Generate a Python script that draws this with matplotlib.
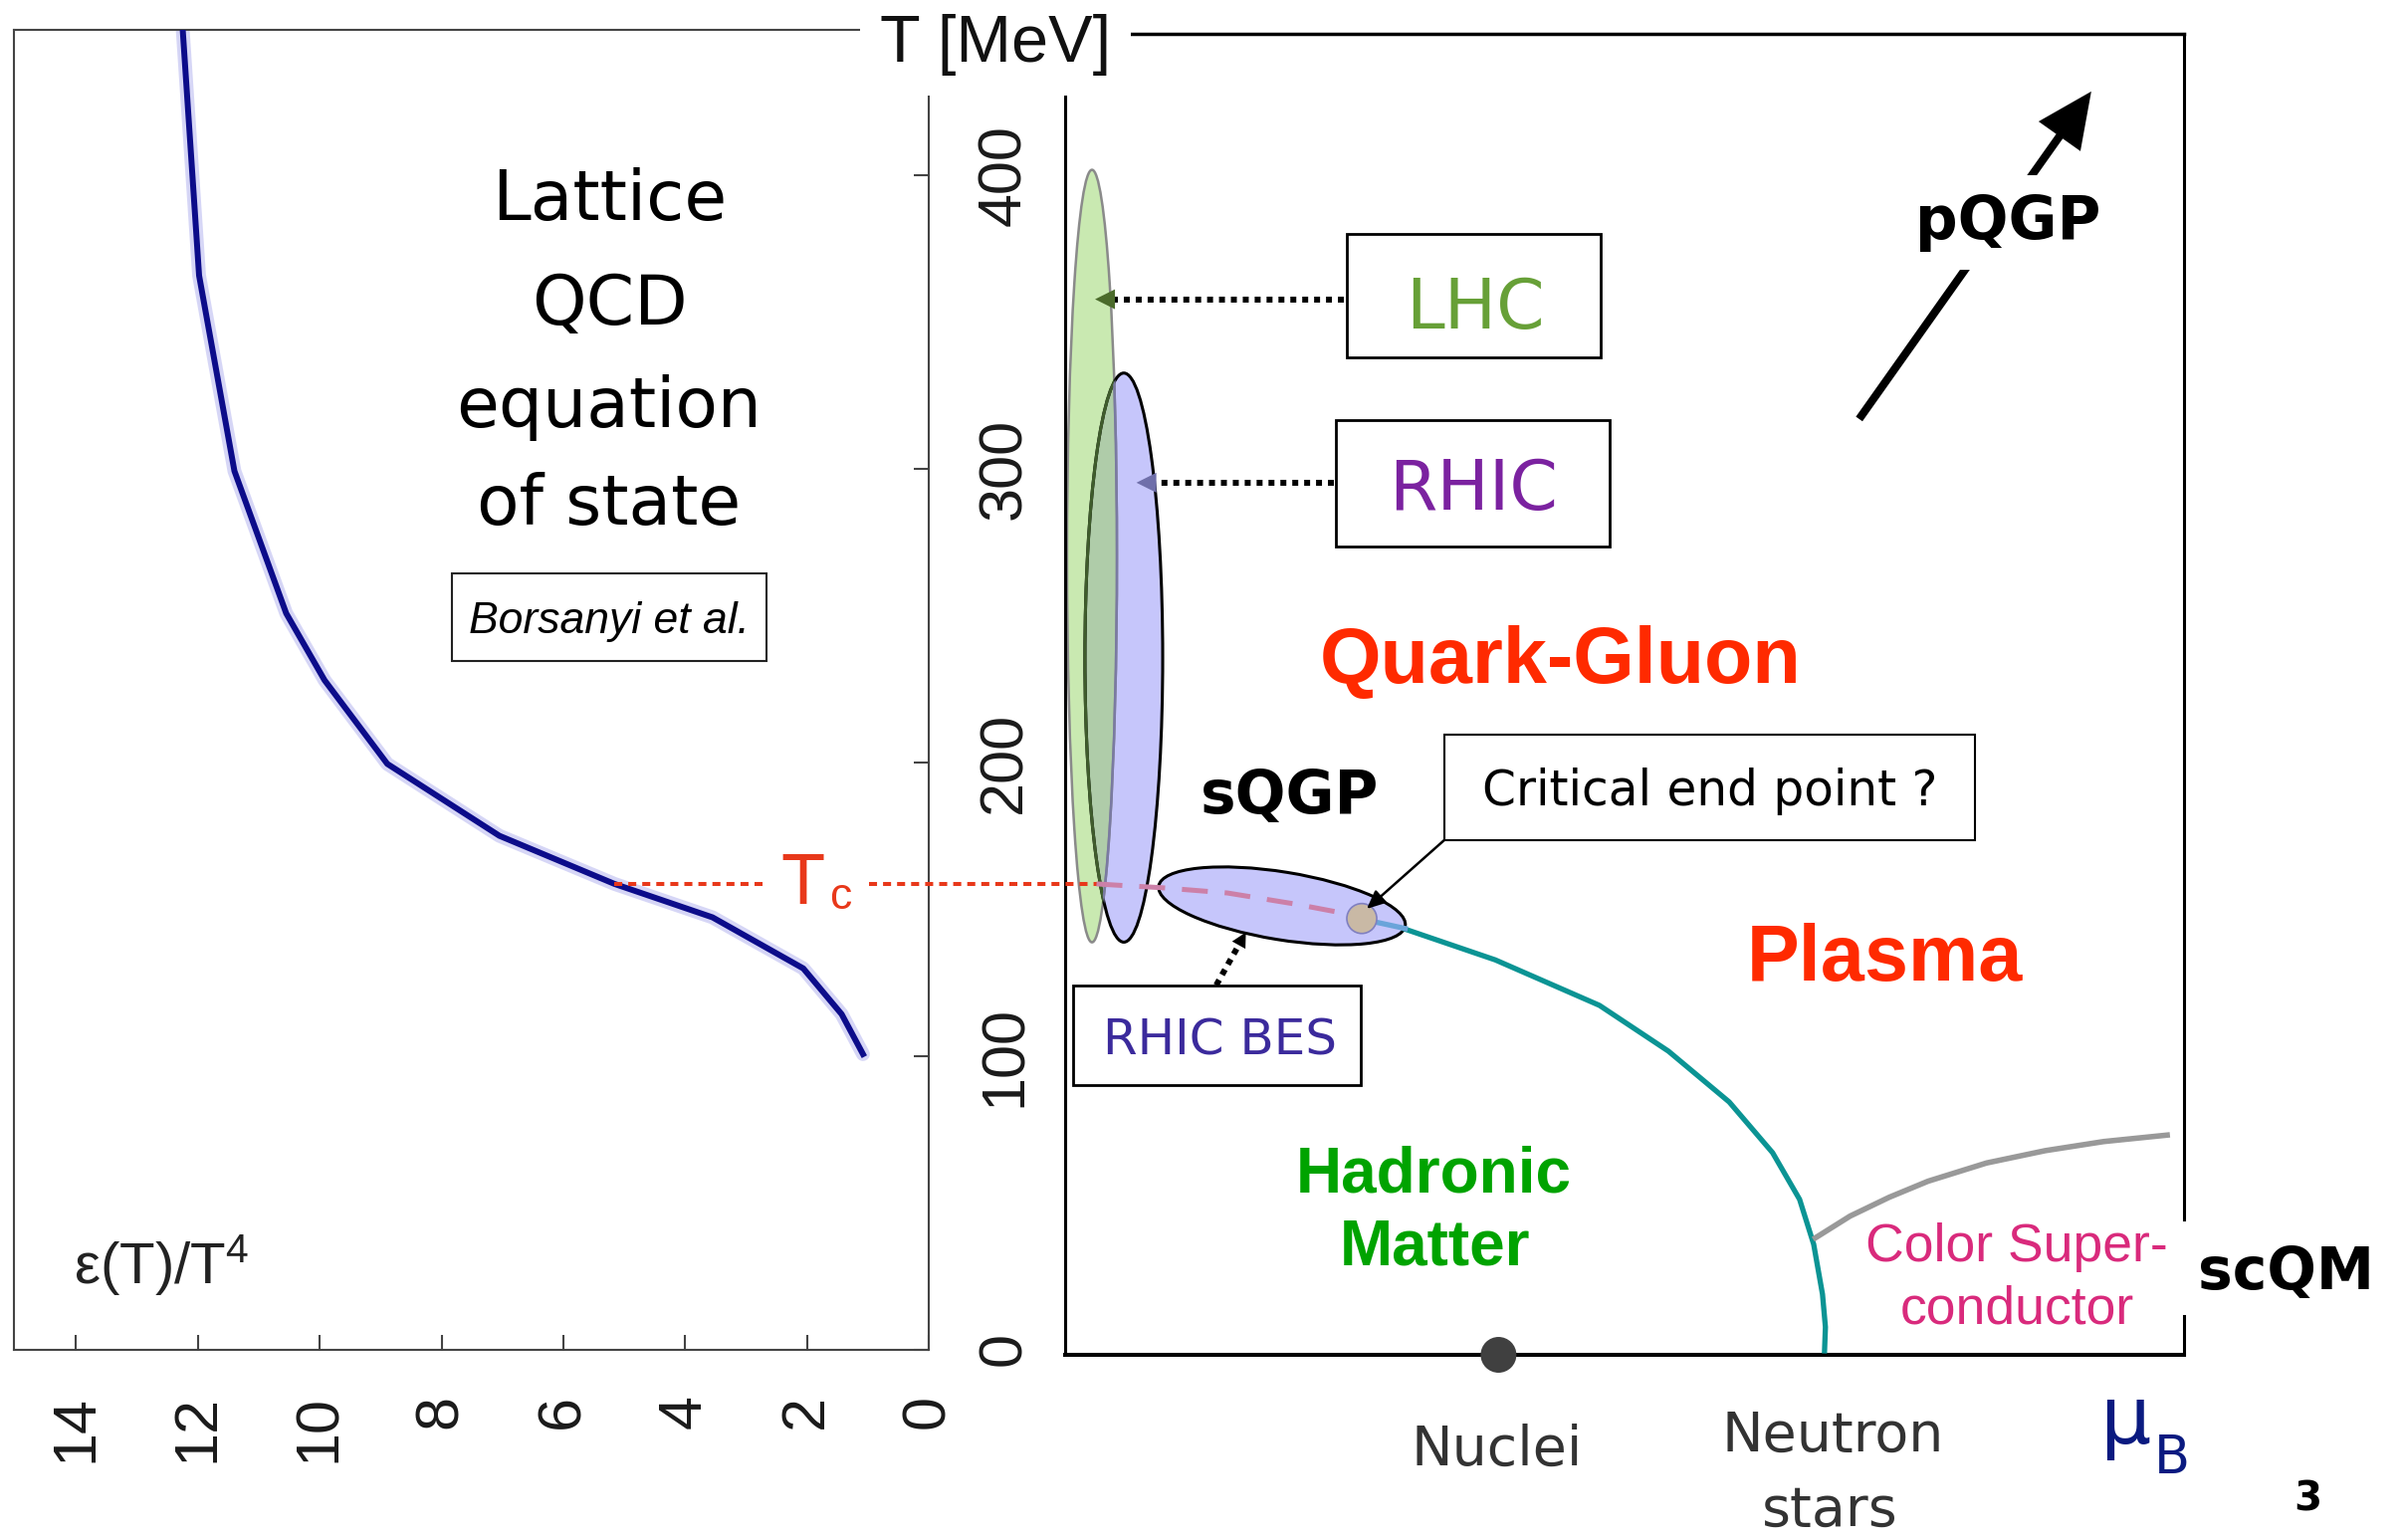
import matplotlib
matplotlib.use('Agg')
import matplotlib.pyplot as plt
from matplotlib.patches import Ellipse, Rectangle, Circle, FancyArrowPatch
from matplotlib import font_manager as fm

# ---------------- data ----------------
# Lattice QCD equation of state (left panel): eps/T^4 vs T [MeV]
T_lattice = [100.6, 114.2, 129.8, 147.2, 158.6, 175.0, 199.5, 228.0, 250.8, 299.3, 365.9, 450.0]
eps_over_T4 = [1.08, 1.43, 2.06, 3.55, 5.16, 7.05, 8.89, 9.92, 10.55, 11.40, 11.98, 12.25]
eps_ticks = [14, 12, 10, 8, 6, 4, 2, 0]
T_ticks = [0, 100, 200, 300, 400]
Tc = 158.6

# Phase diagram (right panel): mu_B (arbitrary units) vs T [MeV]
transition_mu = [115.8, 146.6, 182.1, 205.6, 226.3, 241.1, 250.3, 255.1, 258.1, 259.1, 258.8]
transition_T = [143.2, 132.7, 117.2, 101.6, 84.3, 67.0, 51.1, 35.8, 18.8, 7.6, -0.5]
crossover_mu = [10.7, 17.0, 32.8, 55.3, 78.0, 96.0, 101.1]
crossover_T = [158.6, 158.2, 157.3, 155.5, 151.8, 148.4, 146.8]
cep_link_mu = [106.2, 115.9]
cep_link_T = [145.5, 143.4]
csc_mu = [254.9, 267.5, 280.8, 294.1, 314.0, 334.0, 353.9, 376.5]
csc_T = [37.5, 45.4, 51.8, 57.3, 63.5, 67.7, 70.8, 73.1]
cep_point = (101.1, 146.8)
nuclei_point = (147.7, -1.87)

# accelerator coverage ellipses: (center mu, center T, width, height, angle)
lhc_ell = (9.16, 270.3, 17.0, 263.2, 0.0)
rhic_ell = (20.0, 235.7, 26.5, 193.9, 0.0)
bes_ell = (73.9, 151.1, 85.1, 23.1, -9.2)

# ---------------- fonts ----------------
def has_font(name):
    try:
        fm.findfont(fm.FontProperties(family=name), fallback_to_default=False)
        return True
    except Exception:
        return False

plt.rcParams['font.family'] = ['Liberation Sans', 'DejaVu Sans']
plt.rcParams['mathtext.fontset'] = 'custom'
plt.rcParams['mathtext.rm'] = 'Liberation Sans'
plt.rcParams['mathtext.it'] = 'Liberation Sans:italic'
COMIC = 'DejaVu Sans'
NARROW_OK = has_font('Liberation Sans Narrow')
NARROW = 'Liberation Sans Narrow' if NARROW_OK else 'Liberation Sans'

W, H = 2414, 1547
fig = plt.figure(figsize=(W / 100, H / 100), dpi=100)
fig.patch.set_facecolor('white')


def ptxt(x, y, s, **kw):
    kw.setdefault('ha', 'center')
    kw.setdefault('va', 'baseline')
    return fig.text(x / W, 1 - y / H, s, **kw)

# ---------------- left panel ----------------
ax1 = fig.add_axes([14 / W, (H - 1355.5) / H, (933 - 14) / W, (1355.5 - 30) / H])
ax1.set_xlim(15.02, 0)
ax1.set_ylim(0, 449.6)
ax1.plot(eps_over_T4, T_lattice, color='#8c8ce6', lw=10, alpha=0.35,
         solid_capstyle='round', zorder=2)
ax1.plot(eps_over_T4, T_lattice, color='#0c0c8a', lw=4.3, zorder=3)
for s in ax1.spines.values():
    s.set_color('#444444')
    s.set_linewidth(1.5)
ax1.spines['right'].set_bounds(0, 431)
ax1.yaxis.tick_right()
ax1.set_xticks(eps_ticks)
ax1.set_yticks(T_ticks)
ax1.tick_params(axis='both', direction='in', length=10.8, width=1.5, color='#444444',
                labelsize=44, labelcolor='#1a1a1a')
ax1.tick_params(axis='x', pad=33, labelrotation=90)
ax1.tick_params(axis='y', pad=35, labelrotation=90, left=False, right=True)
for lab in ax1.get_yticklabels():
    lab.set_va('center')

# Tc dotted line (left part)
red = '#e8381a'
ax1.plot([5.16, 2.64], [Tc, Tc], color=red, lw=2.9, ls=(0, (2, 1.5)), clip_on=False, zorder=4)

# Borsanyi box
ax1.add_patch(Rectangle((2.66, 234.6), 5.17, 29.8, fill=False, ec='#222222', lw=1.5, zorder=4))

# ---------------- right panel ----------------
ax2 = fig.add_axes([1070 / W, (H - 1361) / H, 1124 / W, (1361 - 33.5) / H])
ax2.set_xlim(0, 381.3)
ax2.set_ylim(-1.87, 448.4)
ax2.set_xticks([])
ax2.set_yticks([])
ax2.patch.set_alpha(0)
ax2.spines['right'].set_visible(False)
ax2.spines['top'].set_linewidth(2.5)
ax2.spines['left'].set_linewidth(2.2)
ax2.spines['left'].set_bounds(-1.87, 431)
ax2.spines['bottom'].set_linewidth(2.9)
for s in ax2.spines.values():
    s.set_color('black')
# right frame line interrupted by scQM label
ax2.plot([381.3, 381.3], [448.4, 44.3], color='k', lw=2.2, clip_on=False, solid_capstyle='projecting')
ax2.plot([381.3, 381.3], [11.5, -1.87], color='k', lw=2.2, clip_on=False, solid_capstyle='projecting')

# ellipses
def ell(p, **kw):
    return Ellipse((p[0], p[1]), p[2], p[3], angle=p[4], **kw)

lhc = ell(lhc_ell, fc='#c9e9b1', ec='none', zorder=2)
ax2.add_patch(lhc)
rhic = ell(rhic_ell, fc='#c6c6fb', ec='none', zorder=2.1)
ax2.add_patch(rhic)
ov = ell(rhic_ell, fc='#afcca9', ec='none', zorder=2.2)
ax2.add_patch(ov)
ov.set_clip_path(lhc)
ax2.add_patch(ell(lhc_ell, fill=False, ec='#8a8a8a', lw=1.8, zorder=2.5))
ax2.add_patch(ell(rhic_ell, fill=False, ec='black', lw=2.2, zorder=2.6))
e_in = ell(rhic_ell, fill=False, ec='#3f5c2c', lw=2.2, zorder=2.7)
ax2.add_patch(e_in)
e_in.set_clip_path(lhc)
l_in = ell(lhc_ell, fill=False, ec='#7a7aa2', lw=1.8, zorder=2.8)
ax2.add_patch(l_in)
l_in.set_clip_path(rhic)
ax2.add_patch(ell(bes_ell, fc='#c6c6fb', ec='black', lw=2.2, zorder=3))

# Tc dotted line (right part)
ax2.plot([-66.8, 10.7], [Tc, Tc], color=red, lw=2.9, ls=(0, (2, 1.5)), clip_on=False, zorder=4)

# phase lines
ax2.plot(crossover_mu, crossover_T, color='#cc80a8', lw=3.6, ls=(0, (5.2, 3.4)), zorder=4)
ax2.plot(transition_mu, transition_T, color='#0b9494', lw=3.8, zorder=3.5, clip_on=False,
         solid_joinstyle='round')
ax2.plot(cep_link_mu, cep_link_T, color='#6aa4da', lw=3.8, zorder=4)
ax2.plot(csc_mu, csc_T, color='#999999', lw=4.0, zorder=3.5, solid_capstyle='butt',
         solid_joinstyle='round')

ax2.add_patch(Circle(cep_point, 5.1, fc='#c9b9a5', ec='#8080c0', lw=1.2, zorder=6))
ax2.add_patch(Circle(nuclei_point, 6.1, fc='#404040', ec='none', zorder=6, clip_on=False))

# boxes
ax2.add_patch(Rectangle((96.0, 338.1), 86.5, 42.0, fc='white', ec='k', lw=2.0, zorder=5))
ax2.add_patch(Rectangle((92.3, 273.6), 93.2, 43.0, fc='white', ec='k', lw=2.0, zorder=5))
ax2.add_patch(Rectangle((129.2, 173.5), 180.8, 36.0, fc='white', ec='k', lw=1.5, zorder=5))
ax2.add_patch(Rectangle((2.6, 90.2), 98.0, 33.8, fc='white', ec='k', lw=2.0, zorder=5))


def head(base, tip, color, hl, hw, lw=0):
    ax2.add_patch(FancyArrowPatch(base, tip, arrowstyle=f'-|>,head_length={hl},head_width={hw}',
                                  mutation_scale=1, lw=lw, color=color, shrinkA=0, shrinkB=0,
                                  transform=ax2.transData, zorder=7))

dots = (0, (1, 1))
# LHC arrow
ax2.plot([95.0, 17.0], [357.8, 357.8], color='k', lw=4.3, ls=dots, zorder=6)
head((17.0, 357.8), (10.2, 357.8), '#4b6b2b', 14.4, 7.2)
# RHIC arrow
ax2.plot([91.6, 31.1], [295.3, 295.3], color='k', lw=4.3, ls=dots, zorder=6)
head((31.1, 295.3), (24.3, 295.3), '#6f6faa', 14.4, 7.2)
# RHIC BES arrow
ax2.plot([51.5, 59.15], [124.1, 137.7], color='k', lw=4.3, ls=dots, zorder=6)
head((59.15, 137.7), (61.6, 142.1), 'k', 10.6, 5.5)
# critical point callout
ax2.add_patch(FancyArrowPatch((129.2, 173.5), (102.8, 150.1),
                              arrowstyle='-|>,head_length=11,head_width=5', mutation_scale=1,
                              lw=1.8, color='k', shrinkA=0, shrinkB=0,
                              transform=ax2.transData, zorder=7))
# pQGP arrow
ax2.add_patch(FancyArrowPatch((270.6, 317.0), (349.7, 428.6),
                              arrowstyle='-|>,head_length=30,head_width=14', mutation_scale=1,
                              lw=5.8, color='k', shrinkA=0, shrinkB=0, joinstyle='miter',
                              capstyle='butt', transform=ax2.transData, zorder=5))

# ---------------- texts ----------------
for s, y in [('Lattice', 221), ('QCD', 326), ('equation', 429), ('of state', 527)]:
    ptxt(612, y, s, fontsize=50, family=COMIC, color='black')
ptxt(612, 636, 'Borsanyi et al.', fontsize=38 if NARROW_OK else 32, style='italic',
     family=NARROW, color='black')
ptxt(74, 1289, r'ε(T)/$\mathrm{T}^{4}$', ha='left', fontsize=42, color='#222222')
ptxt(806.7, 908, 'T', fontsize=52, color=red)
ptxt(833, 913, 'c', ha='left', fontsize=32, color=red)
ptxt(1000, 61.7, 'T [MeV]', fontsize=48, color='#111111',
     bbox=dict(fc='white', ec='none', boxstyle='square,pad=0.3'))

ptxt(1482, 330, 'LHC', fontsize=50, family=COMIC, color='#67a037', zorder=8)
ptxt(1480, 511.7, 'RHIC', fontsize=50, family=COMIC, color='#7b22a0', zorder=8)
ptxt(1567.5, 686, 'Quark-Gluon', fontsize=57, weight='bold', color='#ff2a00')
ptxt(1893, 985, 'Plasma', fontsize=57, weight='bold', color='#ff2a00')
ptxt(1296, 816.7, 'sQGP', fontsize=43, weight='bold', family='DejaVu Sans', color='black')
ptxt(2017, 240, 'pQGP', fontsize=43, weight='bold', family='DejaVu Sans', color='black',
     bbox=dict(fc='white', ec='none', boxstyle='square,pad=0.3'))
ptxt(1717.6, 809, 'Critical end point ?', fontsize=35, family=COMIC, color='black', zorder=8)
ptxt(1226, 1060, 'RHIC BES', fontsize=36, family=COMIC, color='#3b2a9c', zorder=8)
ptxt(1440.6, 1197.3, 'Hadronic', fontsize=46, weight='bold', color='#00a300')
ptxt(1441.6, 1270.7, 'Matter', fontsize=46, weight='bold', color='#00a300')
ptxt(2026, 1266.7, 'Color Super-', fontsize=38.5, color='#d92a7c')
ptxt(2026, 1330, 'conductor', fontsize=38.5, color='#d92a7c')
ptxt(2296.7, 1295, 'scQM', fontsize=42, weight='bold', family='DejaVu Sans', color='black')
ptxt(1503.8, 1471.7, 'Nuclei', fontsize=40, family=COMIC, color='#333333')
ptxt(1840.7, 1458, 'Neutron', fontsize=40, family=COMIC, color='#333333')
ptxt(1838, 1533, 'stars', fontsize=40, family=COMIC, color='#333333')
ptxt(2134.5, 1450, 'μ', fontsize=58, family=COMIC, color='#0a1a80')
ptxt(2164, 1480, 'B', ha='left', fontsize=38, family=COMIC, color='#0a1a80')
ptxt(2318, 1518, '3', fontsize=29, weight='bold', family='DejaVu Sans', color='black')

fig.savefig('out.png', dpi=100, facecolor='white')
